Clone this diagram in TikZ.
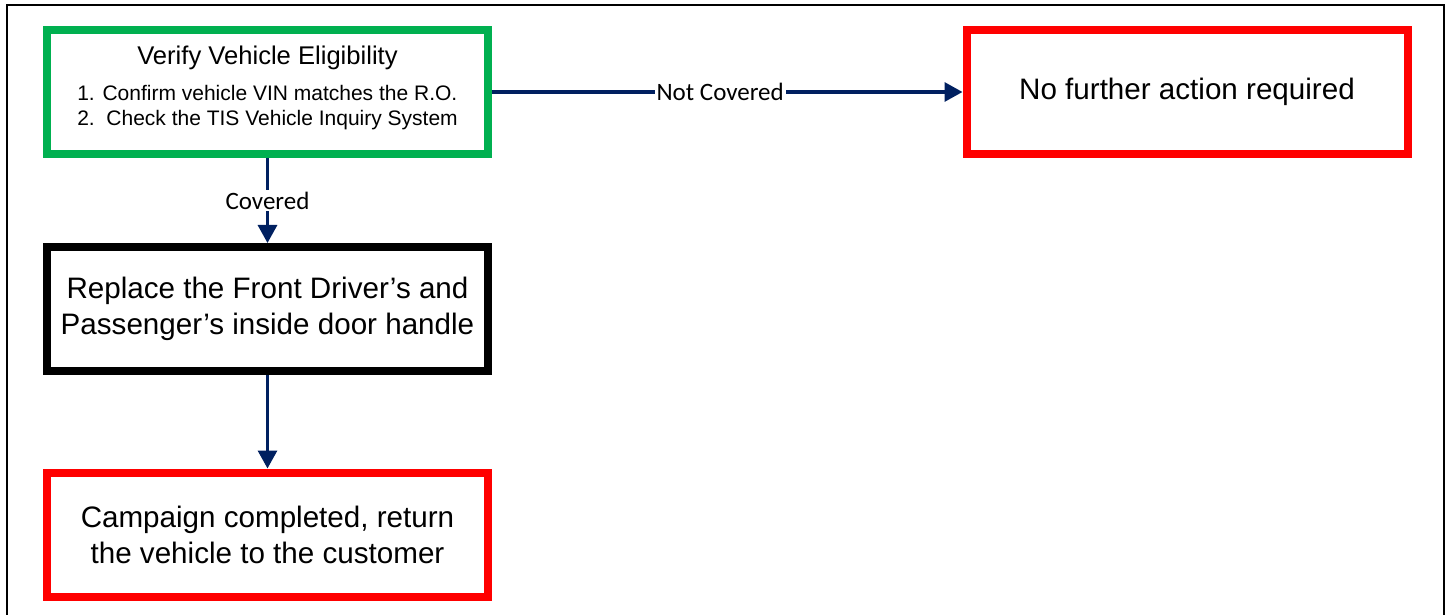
\documentclass[tikz,border=0pt]{standalone}
\usepackage{fontspec}
\setmainfont{Liberation Sans}
\newfontfamily\lblfont{Carlito}
\usetikzlibrary{arrows.meta,shadows}
\definecolor{navy}{HTML}{002060}
\definecolor{boxgreen}{HTML}{00B050}
\definecolor{boxred}{HTML}{FF0000}
\tikzset{
  px/.style={x=0.5pt,y=-0.5pt},
  box/.style={draw, line width=4pt, fill=white, minimum width=220.5pt, minimum height=62pt, inner sep=0pt, align=center,
    drop shadow={shadow xshift=1.5pt, shadow yshift=-1.5pt, fill=blue!30!gray, opacity=0.25}},
  greenbox/.style={box, draw=boxgreen},
  redbox/.style={box, draw=boxred},
  blackbox/.style={box, draw=black},
  bigtext/.style={font=\fontsize{14.8pt}{18pt}\selectfont},
  conn/.style={draw=navy, line width=1.6pt, -{Triangle[length=9pt,width=9.5pt]}},
  lbl/.style={font=\lblfont\fontsize{12.5pt}{14pt}\selectfont, fill=white, inner sep=1pt, text=black}
}
\begin{document}
\begin{tikzpicture}[px]
\useasboundingbox (0,0) rectangle (1448,615);
\begin{scope}
\clip (0,0) rectangle (1448,615);
\draw[line width=0.7pt] (7,5) rectangle (1444,640);
\end{scope}

\node[greenbox] (verify) at (267.5,92) {};
\node[font=\fontsize{12.8pt}{15pt}\selectfont] (vtitle) at (267.5,58) {Verify Vehicle Eligibility};
\node[font=\fontsize{10.5pt}{12.5pt}\selectfont, align=left] (vsteps) at (267.5,107.5) {1. Confirm vehicle VIN matches the R.O.\\2.\ \ Check the TIS Vehicle Inquiry System};

\node[redbox, bigtext] (nofurther) at (1187,92) {No further action required};
\node[blackbox, bigtext] (replace) at (267.5,309) {Replace the Front Driver's and\\Passenger's inside door handle};
\node[redbox, bigtext] (done) at (267.5,534.5) {Campaign completed, return\\the vehicle to the customer};

\draw[conn] (verify.east) -- node[lbl, pos=0.485] {Not Covered} (nofurther.west);
\draw[conn] (verify.south) -- node[lbl] {Covered} (replace.north);
\draw[conn] (replace.south) -- (done.north);
\end{tikzpicture}
\end{document}
